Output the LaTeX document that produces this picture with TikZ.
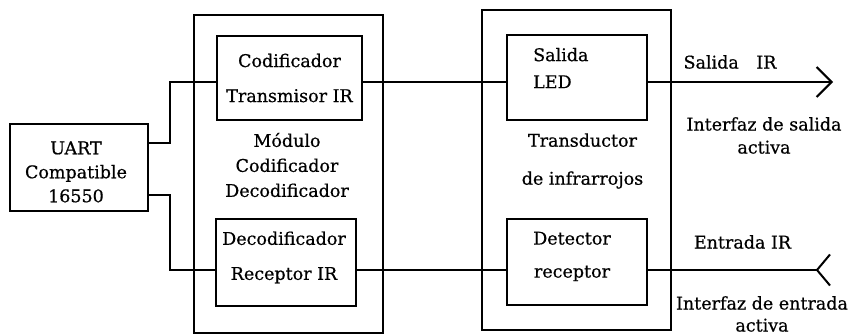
\documentclass[tikz,border=0pt]{standalone}
\usepackage{fontspec}
\setmainfont{DejaVu Serif}[FakeBold=0.6]
\usetikzlibrary{arrows.meta}
\begin{document}
\begin{tikzpicture}[x=1pt,y=-1pt,
  every node/.style={font=\fontsize{17.5}{21}\selectfont},
  blockbox/.style={draw, line width=1.6pt, inner sep=0pt, align=center},
  frame/.style={draw, line width=1.6pt, inner sep=0pt},
  caption/.style={inner sep=0pt, align=center},
  wire/.style={line width=1.4pt},
  ioline/.style={line width=2.6pt}]
\useasboundingbox (0,0) rectangle (852,336);

% outer frames of the two modules
\node[frame, minimum width=189pt, minimum height=318pt] (modL) at (288.5,174) {};
\node[frame, minimum width=189pt, minimum height=320pt] (modR) at (576.5,170) {};

% UART
\node[frame, minimum width=138pt, minimum height=87pt] (uart) at (79,167.5) {};
\node[caption] (uarttxt) at (76,172) {UART\\[3pt]Compatible\\[3pt]16550};

% encoder / decoder blocks
\node[blockbox, minimum width=145pt, minimum height=84pt] (cod) at (289.5,78)
  {Codificador\\[14pt]Transmisor IR};
\node[frame, minimum width=140pt, minimum height=87pt] (dec) at (286,262.5) {};
\node[caption] (dectxt) at (284,257.5) {Decodificador\\[14pt]Receptor IR};
\node[caption] (modLtxt) at (287,165)
  {Módulo\\[4pt]Codificador\\[4pt]Decodificador};

% infrared transducer blocks
\node[frame, minimum width=140pt, minimum height=85pt] (led) at (577,77.5) {};
\node[caption, anchor=west, align=left] (ledtxt) at (533,68) {Salida\\[6pt]LED};
\node[frame, minimum width=140pt, minimum height=86pt] (det) at (577,262) {};
\node[caption] (dettxt) at (572,256.5) {Detector\\[12pt]receptor};
\node[caption] (modRtxt) at (582.5,161) {Transductor\\[17pt]de infrarrojos};

% wiring levels
\coordinate (topY) at (0,82);
\coordinate (botY) at (0,270);
\coordinate (split) at (170,0);
\coordinate (outTip) at (833,82);
\coordinate (inEnd) at (831,270);

% UART to encoder / decoder
\draw[wire] (uart.east |- 0,143) -- (split |- 0,143) -- (split |- topY) -- (cod.west |- topY);
\draw[wire] (uart.east |- 0,195) -- (split |- 0,195) -- (split |- botY) -- (dec.west |- botY);

% encoder/decoder to transducer
\draw[wire] (cod.east |- topY) -- (led.west |- topY);
\draw[wire] (dec.east |- botY) -- (det.west |- botY);

% active interfaces
\draw[ioline, -{Straight Barb[length=15pt,width=30pt,line width=2pt]}] (led.east |- topY) -- (outTip);
\draw[ioline, -{Straight Barb[reversed,length=13pt,width=31pt,line width=2pt]}] (det.east |- botY) -- (inEnd);

% interface labels
\node[caption] (outlbl) at (730,62) {Salida\hspace{1em}IR};
\node[caption] (outdesc) at (764,135.5) {Interfaz de salida\\[2pt]activa};
\node[caption] (inlbl) at (742.5,242) {Entrada IR};
\node[caption] (indesc) at (762,314) {Interfaz de entrada\\[1pt]activa};
\end{tikzpicture}
\end{document}
